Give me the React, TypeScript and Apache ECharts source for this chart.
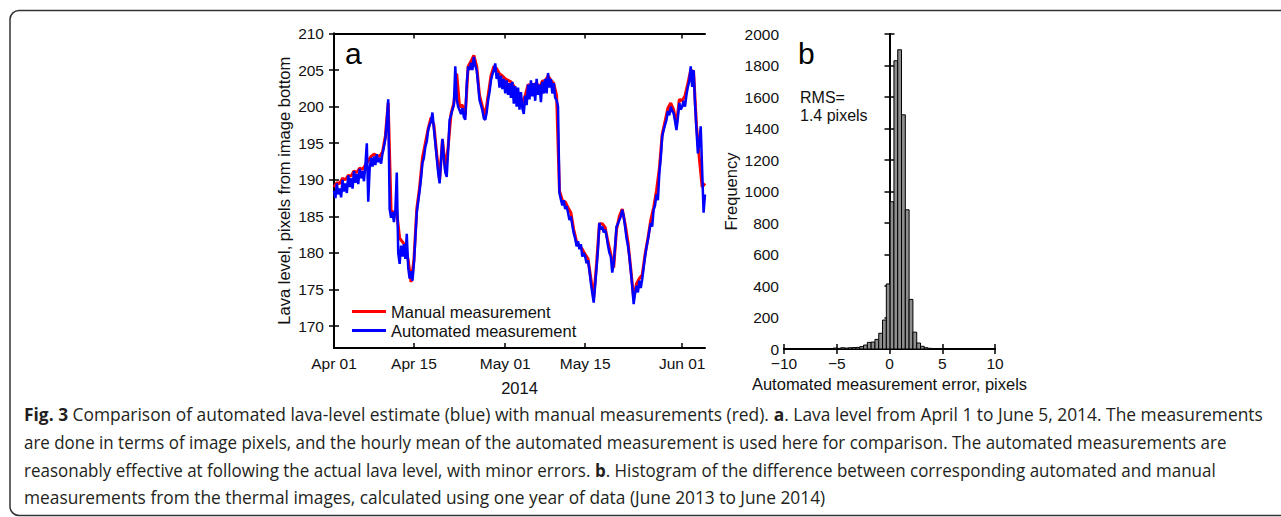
import React, { useEffect, useRef } from 'react';
import * as echarts from 'echarts';

// ---------- DATA ----------
// Panel a: lava level (pixels), April 1 (day 0) to June 5 (day 65), 2014
const AUTOMATED_STEP_DAYS = 0.25;
const AUTOMATED = [
  188.5, 187.5, 189.5, 188.0,
  188.8, 187.6, 190.0, 188.4,
  189.5, 188.2, 190.6, 189.0,
  190.2, 188.8, 191.2, 189.6,
  190.8, 189.4, 191.5, 190.2,
  191.2, 189.8, 192.0, 195.0,
  187.0, 191.5, 193.0, 191.8,
  193.2, 192.0, 193.5, 192.4,
  193.0, 192.2, 193.6, 194.5,
  195.6, 198.0, 201.0, 186.0,
  184.8, 185.6, 184.2, 185.8,
  191.0, 180.0, 178.5, 181.0,
  179.5, 181.2, 179.2, 182.6,
  178.0, 176.5, 177.5, 176.2,
  178.5, 182.0, 185.5, 187.0,
  188.5, 190.2, 192.3, 193.0,
  194.5, 195.2, 196.8, 197.5,
  198.0, 199.2, 197.0, 195.0,
  193.0, 191.0, 189.5, 192.5,
  195.6, 193.0, 191.0, 190.4,
  194.0, 198.2, 198.8, 199.6,
  200.2, 205.5, 201.0, 200.0,
  199.5, 199.0, 199.8, 198.6,
  198.2, 203.0, 205.5, 205.0,
  206.0, 205.0, 206.8, 205.6,
  205.0, 203.0, 200.9, 200.2,
  199.5, 198.4, 198.2, 199.2,
  200.9, 202.0, 203.6, 204.4,
  205.0, 205.9, 203.8, 204.6,
  202.6, 204.2, 202.4, 203.8,
  201.8, 203.6, 201.6, 203.2,
  201.2, 203.4, 200.4, 202.8,
  200.0, 202.6, 199.6, 202.0,
  199.8, 199.0, 201.5, 200.2,
  203.0, 201.0, 203.6, 201.4,
  203.2, 200.8, 203.8, 201.6,
  203.0, 200.6, 203.4, 201.8,
  203.8, 201.8, 204.6, 202.6,
  203.8, 201.8, 203.2, 201.2,
  200.9, 200.0, 188.2, 187.3,
  186.5, 187.2, 186.0, 186.4,
  185.5, 184.5, 185.0, 183.8,
  182.7, 182.0, 180.9, 181.6,
  180.5, 181.2, 179.5, 180.0,
  179.5, 178.6, 179.0, 177.6,
  175.9, 174.5, 173.2, 175.5,
  178.0, 180.5, 184.1, 183.2,
  183.6, 182.8, 183.2, 182.3,
  181.0, 180.0, 179.5, 177.3,
  178.5, 180.9, 183.6, 184.0,
  184.5, 185.0, 185.9, 185.0,
  183.6, 182.0, 181.0, 179.5,
  177.5, 175.5, 173.0, 174.5,
  175.5, 174.6, 176.2, 175.2,
  176.4, 178.0, 179.5, 180.8,
  181.8, 183.0, 184.1, 183.6,
  185.9, 186.5, 188.0, 187.2,
  190.9, 193.0, 195.9, 196.8,
  197.5, 198.2, 199.4, 198.8,
  200.0, 199.4, 199.1, 198.0,
  196.8, 198.5, 200.5, 199.6,
  200.0, 200.8, 200.0, 201.6,
  202.7, 203.5, 205.5, 202.7,
  205.0, 200.5, 197.0, 193.6,
  195.0, 197.3, 191.4, 185.5,
  188.0,
];

const MANUAL_STEP_DAYS = 0.5;
const MANUAL = [
  189.0, 189.6, 189.5, 190.2, 190.0, 190.6, 190.5, 191.2, 191.0, 191.6,
  191.4, 192.0, 192.6, 193.2, 193.5, 193.3, 193.2, 193.8, 196.0, 200.5,
  185.8, 185.5, 185.5, 182.0, 181.5, 181.0, 179.0, 176.0, 179.0, 186.0,
  189.0, 193.0, 195.0, 197.0, 198.5, 197.5, 193.5, 190.0, 195.5, 191.5,
  194.5, 199.0, 200.5, 204.5, 200.0, 200.2, 198.8, 205.5, 206.2, 207.0,
  205.5, 201.5, 200.0, 198.8, 201.5, 204.2, 205.5, 205.2, 204.5, 204.2,
  203.8, 203.6, 203.4, 202.8, 202.2, 201.5, 200.5, 201.5, 203.0, 202.8,
  203.0, 203.2, 202.5, 203.5, 203.5, 204.2, 203.6, 203.2, 201.5, 188.5,
  187.2, 187.0, 186.2, 185.5, 183.2, 181.5, 181.0, 180.5, 179.8, 179.2,
  176.5, 174.0, 178.5, 184.0, 184.0, 183.5, 181.5, 179.8, 178.0, 183.2,
  185.0, 186.0, 184.0, 181.5, 177.8, 173.8, 175.8, 176.5, 177.0, 179.8,
  182.0, 184.5, 186.2, 188.5, 191.5, 196.2, 198.0, 199.8, 200.5, 199.6,
  197.5, 201.0, 200.8, 201.5, 203.2, 205.0, 204.8, 197.5, 193.0, 189.0,
  189.5,
];

const X_MAX_DAYS = 65;
const X_TICK_DAYS = [0, 14, 30, 44, 61];
const X_TICK_LABELS = ['Apr 01', 'Apr 15', 'May 01', 'May 15', 'Jun 01'];
const Y_MIN = 167;
const Y_MAX = 210;
const Y_TICKS = [170, 175, 180, 185, 190, 195, 200, 205, 210];

// Panel b: histogram of automated - manual error (pixels)
const HIST_BIN_WIDTH = 0.36;
const HIST_BIN_LEFT = [
  -5.70, -5.34, -4.98, -4.62, -4.26, -3.90, -3.54, -3.18, -2.82, -2.46,
  -2.10, -1.74, -1.38, -1.02, -0.66, -0.30, 0.06, 0.42, 0.78, 1.14,
  1.50, 1.86, 2.22, 2.58, 2.94, 3.30, 3.66, 4.02,
];
const HIST_COUNTS = [
  3, 6, 4, 8, 6, 8, 9, 10, 15, 25,
  42, 44, 61, 100, 184, 413, 935, 1830, 1900, 1487,
  884, 315, 107, 38, 17, 8, 4, 2,
];

const CAPTION_LINES = [
  '{b|Fig. 3} Comparison of automated lava-level estimate (blue) with manual measurements (red). {b|a}. Lava level from April 1 to June 5, 2014. The measurements',
  'are done in terms of image pixels, and the hourly mean of the automated measurement is used here for comparison. The automated measurements are',
  'reasonably effective at following the actual lava level, with minor errors. {b|b}. Histogram of the difference between corresponding automated and manual',
  'measurements from the thermal images, calculated using one year of data (June 2013 to June 2014)',
];

// ---------- STYLE ----------
const FONT = '"Liberation Sans", Arial, Helvetica, sans-serif';
const CAP_FONT = '"Open Sans", "Noto Sans", sans-serif';
const CAP_SIZE = 18;
const CAP_LEFT = 24;
const CAP_RIGHT = [1263, 1227, 1216, 826];
const CAP_Y = [414, 442, 469.5, 497];

function measureRich(line: string, size: number): number {
  const ctx = document.createElement('canvas').getContext('2d');
  if (!ctx) return line.length * size * 0.5;
  let w = 0;
  const parts = line.split(/(\{b\|[^}]*\})/);
  for (const p of parts) {
    if (!p) continue;
    const m = p.match(/^\{b\|([^}]*)\}$/);
    if (m) {
      ctx.font = `bold ${size}px ${CAP_FONT}`;
      w += ctx.measureText(m[1]).width;
    } else {
      ctx.font = `${size}px ${CAP_FONT}`;
      w += ctx.measureText(p).width;
    }
  }
  return w;
}

const axisLineStyle = { show: true, lineStyle: { color: '#000', width: 2 } };
const tickStyle = { color: '#000', width: 1.5 };
const labelStyle = { color: '#111', fontSize: 15.5, fontFamily: FONT };
const nameStyle = { color: '#111', fontSize: 16.5, fontFamily: FONT };

function minusFmt(v: number) {
  return v < 0 ? '\u2212' + Math.abs(v) : String(v);
}

function buildOption() {
  const autoData = AUTOMATED.map((v, i) => [i * AUTOMATED_STEP_DAYS, v]);
  const manualData = MANUAL.map((v, i) => [i * MANUAL_STEP_DAYS, v]);
  const histData = HIST_BIN_LEFT.map((x0, i) => [x0, x0 + HIST_BIN_WIDTH, HIST_COUNTS[i]]);

  const captionEls = CAPTION_LINES.map((t, i) => ({
    type: 'text',
    x: CAP_LEFT,
    y: CAP_Y[i],
    scaleX: (CAP_RIGHT[i] - CAP_LEFT) / measureRich(t, CAP_SIZE),
    silent: true,
    style: {
      text: t,
      fontSize: CAP_SIZE,
      fontFamily: CAP_FONT,
      fill: '#231f20',
      verticalAlign: 'middle',
      align: 'left',
      rich: {
        b: { fontWeight: 'bold', fontSize: CAP_SIZE, fontFamily: CAP_FONT, fill: '#231f20' },
      },
    },
  }));

  return {
    animation: false,
    backgroundColor: '#fff',
    grid: [
      { left: 334, top: 33.5, width: 371, height: 314.5 },
      { left: 784, top: 34, width: 211, height: 315 },
    ],
    legend: {
      data: ['Manual measurement', 'Automated measurement'],
      orient: 'vertical',
      left: 347,
      top: 298,
      icon: 'rect',
      itemWidth: 34,
      itemHeight: 3,
      itemGap: 2,
      selectedMode: false,
      textStyle: { color: '#111', fontSize: 16.5, fontFamily: FONT },
    },
    xAxis: [
      {
        type: 'value', gridIndex: 0, min: 0, max: X_MAX_DAYS, position: 'bottom',
        axisLine: axisLineStyle,
        axisTick: { show: true, inside: true, length: 5, customValues: X_TICK_DAYS, lineStyle: tickStyle },
        axisLabel: {
          ...labelStyle, margin: 7, customValues: X_TICK_DAYS,
          formatter: (v: number) => X_TICK_LABELS[X_TICK_DAYS.indexOf(v)] ?? '',
        },
        splitLine: { show: false },
        name: '2014', nameLocation: 'middle', nameGap: 31, nameTextStyle: nameStyle,
      },
      {
        type: 'value', gridIndex: 0, min: 0, max: X_MAX_DAYS, position: 'top',
        axisLine: axisLineStyle,
        axisTick: { show: true, inside: true, length: 5, customValues: X_TICK_DAYS, lineStyle: tickStyle },
        axisLabel: { show: false },
        splitLine: { show: false },
      },
      {
        type: 'value', gridIndex: 1, min: -10, max: 10, interval: 5, position: 'bottom',
        axisLine: axisLineStyle,
        axisTick: { show: true, inside: true, length: 5, lineStyle: tickStyle },
        axisLabel: { ...labelStyle, margin: 8, lineHeight: 12, formatter: minusFmt },
        splitLine: { show: false },
        name: 'Automated measurement error, pixels', nameLocation: 'middle', nameGap: 25,
        nameTextStyle: nameStyle,
      },
      {
        type: 'value', gridIndex: 1, min: -10, max: 10, interval: 5, position: 'top',
        axisLine: axisLineStyle,
        axisTick: { show: true, inside: true, length: 5, lineStyle: tickStyle },
        axisLabel: { show: false },
        splitLine: { show: false },
      },
    ],
    yAxis: [
      {
        type: 'value', gridIndex: 0, min: Y_MIN, max: Y_MAX, position: 'left',
        axisLine: axisLineStyle,
        axisTick: { show: true, inside: true, length: 5, customValues: Y_TICKS, lineStyle: tickStyle },
        axisLabel: { ...labelStyle, margin: 10, customValues: Y_TICKS },
        splitLine: { show: false },
        name: 'Lava level, pixels from image bottom', nameLocation: 'middle', nameRotate: 90,
        nameGap: 42, nameTextStyle: nameStyle,
      },
      {
        type: 'value', gridIndex: 0, min: Y_MIN, max: Y_MAX, position: 'right',
        axisLine: axisLineStyle,
        axisTick: { show: true, inside: true, length: 5, customValues: Y_TICKS, lineStyle: tickStyle },
        axisLabel: { show: false },
        splitLine: { show: false },
      },
      {
        type: 'value', gridIndex: 1, min: 0, max: 2000, interval: 200, position: 'left',
        axisLine: axisLineStyle,
        axisTick: { show: true, inside: true, length: 5, lineStyle: tickStyle },
        axisLabel: {
          ...labelStyle, margin: 5, lineHeight: 11,
          formatter: (v: number) => String(v),
        },
        splitLine: { show: false },
        name: 'Frequency', nameLocation: 'middle', nameRotate: 90, nameGap: 45,
        nameTextStyle: nameStyle,
      },
      {
        type: 'value', gridIndex: 1, min: 0, max: 2000, interval: 200, position: 'right',
        axisLine: axisLineStyle,
        axisTick: { show: true, inside: true, length: 5, lineStyle: tickStyle },
        axisLabel: { show: false },
        splitLine: { show: false },
      },
    ],
    series: [
      {
        name: 'Manual measurement', type: 'line', xAxisIndex: 0, yAxisIndex: 0,
        data: manualData, showSymbol: false, symbol: 'none', color: '#ff0000',
        lineStyle: { color: '#ff0000', width: 3 }, z: 2,
      },
      {
        name: 'Automated measurement', type: 'line', xAxisIndex: 0, yAxisIndex: 0,
        data: autoData, showSymbol: false, symbol: 'none', color: '#0000ff',
        lineStyle: { color: '#0000ff', width: 2.5 }, z: 3,
      },
      {
        name: 'hist', type: 'custom', xAxisIndex: 2, yAxisIndex: 2,
        data: histData,
        encode: { x: [0, 1], y: 2 },
        renderItem: (params: any, api: any) => {
          const p0 = api.coord([api.value(0), api.value(2)]);
          const p1 = api.coord([api.value(1), 0]);
          return {
            type: 'rect',
            shape: { x: p0[0], y: p0[1], width: p1[0] - p0[0], height: p1[1] - p0[1] },
            style: { fill: '#8e8e8e', stroke: '#000', lineWidth: 1 },
          };
        },
      },
    ],
    graphic: [
      {
        type: 'rect', silent: true, z: 0,
        shape: { x: 10, y: 10.5, width: 1300, height: 505, r: 9 },
        style: { fill: 'none', stroke: '#333', lineWidth: 1.5 },
      },
      {
        type: 'text', x: 345, y: 53, silent: true,
        style: { text: 'a', fontSize: 30, fontFamily: FONT, fill: '#000', verticalAlign: 'middle' },
      },
      {
        type: 'text', x: 798, y: 53, silent: true,
        style: { text: 'b', fontSize: 30, fontFamily: FONT, fill: '#000', verticalAlign: 'middle' },
      },
      {
        type: 'text', x: 800, y: 97, silent: true,
        style: { text: 'RMS=', fontSize: 16, fontFamily: FONT, fill: '#111', verticalAlign: 'middle' },
      },
      {
        type: 'text', x: 800, y: 115, silent: true,
        style: { text: '1.4 pixels', fontSize: 16, fontFamily: FONT, fill: '#111', verticalAlign: 'middle' },
      },
      ...captionEls,
    ],
  };
}

export default function App() {
  const ref = useRef<HTMLDivElement>(null);
  useEffect(() => {
    if (!ref.current) return;
    const chart = echarts.init(ref.current, null, { renderer: 'svg' });
    chart.setOption(buildOption() as any);
    return () => chart.dispose();
  }, []);
  return (
    <div
      ref={ref}
      style={{ position: 'absolute', left: 0, top: 0, width: 1281, height: 517, background: '#fff' }}
    />
  );
}
